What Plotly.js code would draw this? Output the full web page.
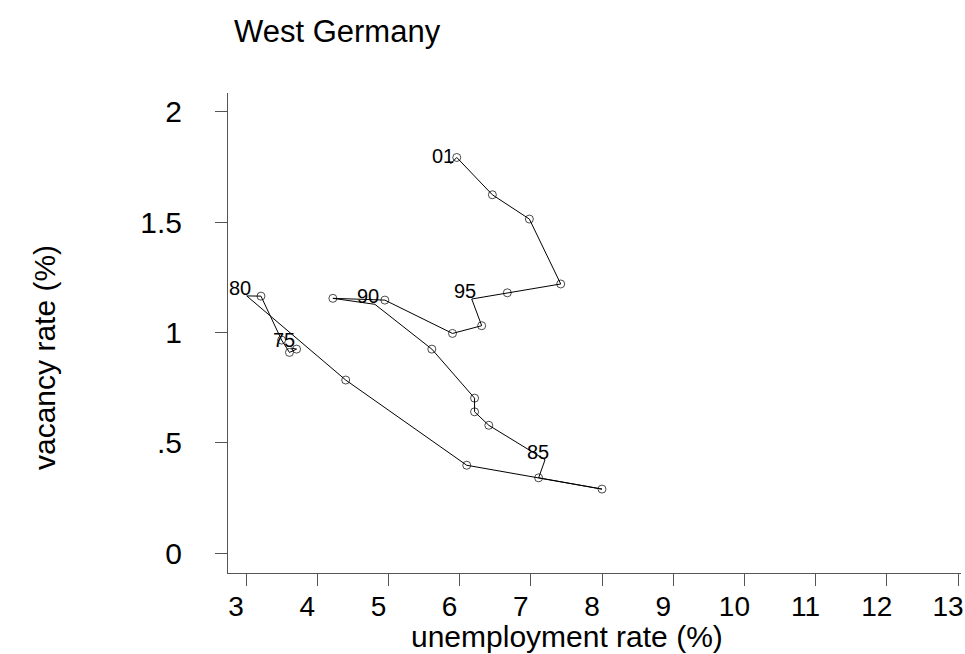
<!DOCTYPE html>
<html><head><meta charset="utf-8">
<script src="https://cdn.plot.ly/plotly-3.0.1.min.js"></script>
<style>html,body{margin:0;padding:0;background:#fff}#chart{width:965px;height:654px}</style>
</head><body><div id="chart"></div>
<script>
// West Germany Beveridge curve, 1975-2001
const years = [1975,1976,1977,1978,1979,1980,1981,1982,1983,1984,1985,1986,1987,1988,1989,1990,1991,1992,1993,1994,1995,1996,1997,1998,1999,2000,2001];
const unemploymentRate = [3.63,3.71,3.61,3.50,3.21,3.01,4.40,6.10,8.00,7.11,7.20,6.41,6.21,6.21,5.61,4.81,4.22,4.95,5.90,6.31,6.17,6.67,7.42,6.98,6.46,5.96,5.87];
const vacancyRate = [0.930,0.925,0.910,0.966,1.165,1.166,0.785,0.399,0.291,0.342,0.424,0.580,0.641,0.703,0.925,1.128,1.155,1.147,0.996,1.031,1.152,1.180,1.220,1.514,1.624,1.793,1.763];
const pointLabels = ["75","","","","","80","","","","","85","","","","","90","","","","","95","","","","","","01"];
const xTickValues = [3,4,5,6,7,8,9,10,11,12,13];
const yTickValues = [0,0.5,1,1.5,2];
const yTickLabels = ["0",".5","1","1.5","2"];
const chartTitle = "West Germany";
const xTitle = "unemployment rate (%)";
const yTitle = "vacancy rate (%)";

const FONT = "Liberation Sans, Arial, Helvetica, sans-serif";

const trace = {
  x: unemploymentRate,
  y: vacancyRate,
  type: "scatter",
  mode: "lines+markers",
  line: {color: "#000", width: 1},
  marker: {
    symbol: "circle-open",
    size: pointLabels.map(l => l ? 0 : 8),
    color: "#000",
    line: {color: "#000", width: 1}
  },
  hoverinfo: "skip"
};

const annotations = pointLabels.map((lab, i) => lab ? {
  x: unemploymentRate[i], y: vacancyRate[i], xref: "x", yref: "y",
  text: lab, showarrow: false, xanchor: "center", yanchor: "bottom",
  xshift: -7, yshift: -5,
  font: {family: FONT, size: 20, color: "#000"}
} : null).filter(a => a);

// axis titles (placed as in the reference, offset from the plot centre)
annotations.push({
  text: xTitle, xref: "paper", yref: "paper", x: (567 - 228) / 733, y: -(636 - 573) / 480,
  xanchor: "center", yanchor: "middle", showarrow: false,
  font: {family: FONT, size: 30, color: "#000"}
});
annotations.push({
  text: yTitle, xref: "paper", yref: "paper", x: (45 - 228) / 733, y: (573 - 358) / 480,
  xanchor: "center", yanchor: "middle", showarrow: false, textangle: -90,
  font: {family: FONT, size: 30, color: "#000"}
});

const layout = {
  width: 965, height: 654,
  margin: {l: 228, r: 4, t: 93, b: 81},
  paper_bgcolor: "#fff", plot_bgcolor: "#fff",
  showlegend: false,
  title: {
    text: chartTitle,
    font: {family: FONT, size: 31, color: "#000"},
    x: 234/965, xref: "container", xanchor: "left",
    y: 1 - 31/654, yref: "container", yanchor: "middle"
  },
  xaxis: {
    range: [2.747, 13.042],
    tickvals: xTickValues,
    ticktext: xTickValues.map(String),
    ticks: "outside", ticklen: 12, tickwidth: 1, tickcolor: "#555",
    showline: true, linecolor: "#555", linewidth: 1,
    showgrid: false, zeroline: false,
    tickfont: {family: FONT, size: 28, color: "#000"},
    ticklabelstandoff: -4,
    ticklabelshift: -10,
    ticklabeloverflow: "allow"
  },
  yaxis: {
    range: [-0.089, 2.085],
    tickvals: yTickValues,
    ticktext: yTickLabels,
    ticks: "outside", ticklen: 12, tickwidth: 1, tickcolor: "#555",
    showline: true, linecolor: "#555", linewidth: 1,
    showgrid: false, zeroline: false,
    tickangle: 0,
    tickfont: {family: FONT, size: 30, color: "#000"},
    ticklabelstandoff: 27
  },
  annotations: annotations
};

Plotly.newPlot("chart", [trace], layout, {displayModeBar: false, staticPlot: true});
</script>
</body></html>
